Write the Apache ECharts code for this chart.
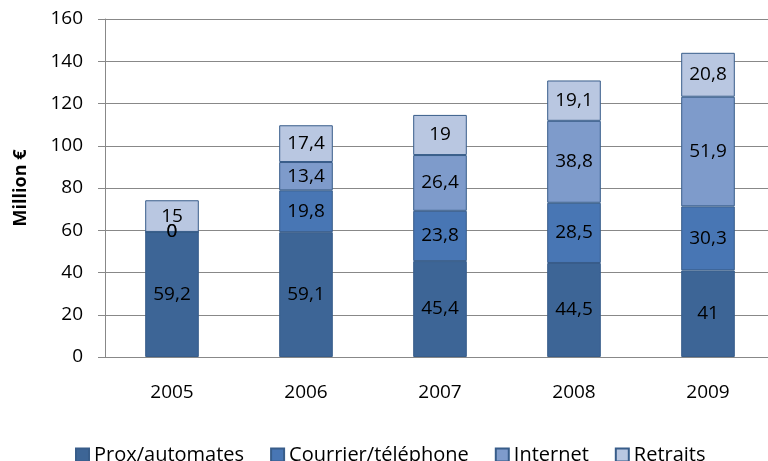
<!DOCTYPE html>
<html>
<head>
<meta charset="utf-8">
<script src="https://cdn.jsdelivr.net/npm/echarts@6/dist/echarts.min.js"></script>
<style>
  html, body { margin: 0; padding: 0; background: #fff; overflow: hidden; }
  #chart { width: 768px; height: 461px; }
</style>
</head>
<body>
<div id="chart"></div>
<script>
const years = ['2005', '2006', '2007', '2008', '2009'];
const prox = [59.2, 59.1, 45.4, 44.5, 41];
const courrier = [0, 19.8, 23.8, 28.5, 30.3];
const internet = [0, 13.4, 26.4, 38.8, 51.9];
const retraits = [15, 17.4, 19, 19.1, 20.8];
const yTicks = [0, 20, 40, 60, 80, 100, 120, 140, 160];

const font = 'Open Sans, Liberation Sans, sans-serif';

function makeSeries(name, data, color) {
  return {
    name: name,
    type: 'bar',
    stack: 'total',
    data: data,
    barWidth: '40%',
    itemStyle: { color: color, borderColor: '#385d8a', borderWidth: 1 },
    label: {
      show: true,
      position: 'inside',
      color: '#000',
      fontSize: 19,
      fontFamily: font,
      formatter: p => String(p.value).replace('.', ',')
    }
  };
}

let chart = echarts.init(document.getElementById('chart'));
let option = {
  animation: false,
  grid: { left: 105, width: 670, top: 19, bottom: 104, outerBoundsMode: 'none' },
  legend: {
    top: 440,
    left: 70,
    itemWidth: 13,
    itemHeight: 13,
    itemGap: 26,
    icon: 'rect',
    textStyle: { fontSize: 20, fontFamily: font, color: '#000' },
    data: ['Prox/automates', 'Courrier/téléphone', 'Internet', 'Retraits']
  },
  xAxis: {
    type: 'category',
    data: years,
    axisLine: { lineStyle: { color: '#888' } },
    axisTick: { show: false },
    axisLabel: { fontSize: 19, fontFamily: font, color: '#000', margin: 26 }
  },
  yAxis: {
    type: 'value',
    min: yTicks[0],
    max: yTicks[yTicks.length - 1],
    interval: 20,
    name: 'Million €',
    nameLocation: 'middle',
    nameGap: 75,
    nameTextStyle: { fontSize: 18, fontWeight: 'bold', fontFamily: font, color: '#000' },
    axisLine: { show: true, lineStyle: { color: '#888' } },
    axisTick: { show: true, length: 7, lineStyle: { color: '#888' } },
    axisLabel: { fontSize: 19, fontFamily: font, color: '#000', margin: 22 },
    splitLine: { lineStyle: { color: '#888' } }
  },
  series: [
    makeSeries('Prox/automates', prox, '#3d6596'),
    makeSeries('Courrier/téléphone', courrier, '#4876b4'),
    makeSeries('Internet', internet, '#7e9bcb'),
    makeSeries('Retraits', retraits, '#b9c7e1')
  ]
};
chart.setOption(option);
</script>
</body>
</html>
